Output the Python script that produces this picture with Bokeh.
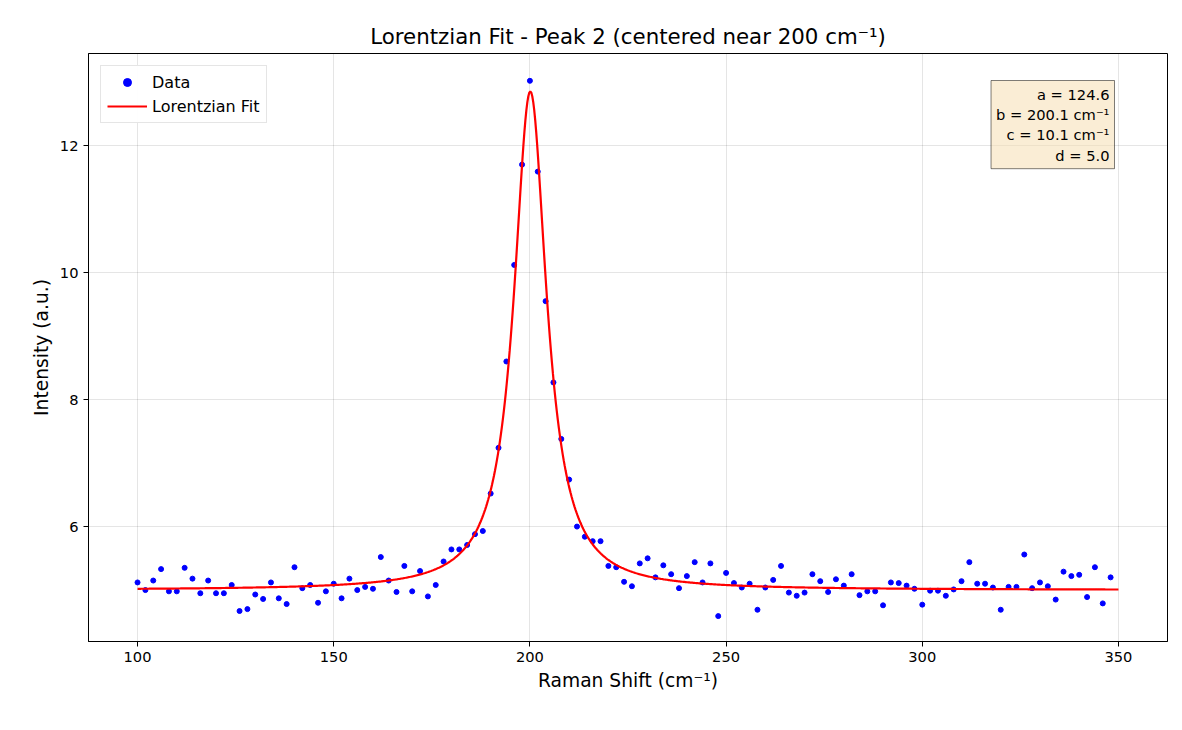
import numpy as np
from bokeh.plotting import figure
from bokeh.models import Label, Range1d, Legend, LegendItem
from bokeh.embed import file_html
from bokeh.resources import INLINE

x_data = list(range(100, 350, 2))
y_data = [5.12, 5.0, 5.15, 5.33, 4.98, 4.98, 5.35, 5.18, 4.95, 5.15, 4.95, 4.95, 5.08, 4.67, 4.70,
          4.93, 4.86, 5.12, 4.87, 4.78, 5.36, 5.03, 5.08, 4.80, 4.98, 5.10, 4.87, 5.18, 5.0, 5.05,
          5.02, 5.52, 5.15, 4.97, 5.38, 4.98, 5.30, 4.90, 5.08, 5.45, 5.64, 5.64, 5.71, 5.88, 5.93,
          6.52, 7.24, 8.60, 10.12, 11.70, 13.02, 11.59, 9.55, 8.27, 7.38, 6.74, 6.0, 5.84, 5.77, 5.77,
          5.38, 5.36, 5.13, 5.06, 5.42, 5.5, 5.2, 5.39, 5.25, 5.03, 5.22, 5.44, 5.12, 5.42, 4.59,
          5.27, 5.11, 5.04, 5.1, 4.69, 5.04, 5.16, 5.38, 4.96, 4.91, 4.96, 5.25, 5.14, 4.97, 5.17,
          5.07, 5.25, 4.92, 4.98, 4.98, 4.76, 5.12, 5.11, 5.07, 5.02, 4.77, 4.99, 4.99, 4.91, 5.01,
          5.14, 5.44, 5.1, 5.1, 5.04, 4.69, 5.05, 5.05, 5.56, 5.03, 5.12, 5.06, 4.85, 5.29, 5.22,
          5.24, 4.89, 5.36, 4.79, 5.2]

fit_a = 124.6
fit_b = 200.1
fit_c = 10.1
fit_d = 5.0

xf = np.linspace(100, 350, 1000)
hw = fit_c / 2
yf = fit_d + fit_a / np.pi * hw / ((xf - fit_b) ** 2 + hw ** 2)

p = figure(width=1174, height=714, output_backend="svg", toolbar_location=None,
           x_range=Range1d(87.5, 362.5), y_range=Range1d(4.19, 13.45),
           min_border_left=88, min_border_right=7, min_border_top=53, min_border_bottom=73)
p.title.text = "Lorentzian Fit - Peak 2 (centered near 200 cm⁻¹)"
p.title.align = "center"
p.title.text_font = "DejaVu Sans"
p.title.text_font_size = "16pt"
p.title.text_font_style = "normal"
p.title.text_color = "black"
p.outline_line_color = "black"
p.xaxis.axis_label = "Raman Shift (cm⁻¹)"
p.yaxis.axis_label = "Intensity (a.u.)"
for ax in (p.xaxis, p.yaxis):
    ax.axis_label_text_font = "DejaVu Sans"
    ax.axis_label_text_font_size = "14pt"
    ax.axis_label_text_font_style = "normal"
    ax.axis_label_text_color = "black"
    ax.major_label_text_font = "DejaVu Sans"
    ax.major_label_text_font_size = "11pt"
    ax.major_label_text_color = "black"
    ax.minor_tick_line_color = None
    ax.major_tick_in = 0
    ax.major_tick_out = 5
    ax.major_tick_line_color = "black"
    ax.axis_line_color = "black"
p.xaxis.ticker = [100, 150, 200, 250, 300, 350]
p.yaxis.ticker = [6, 8, 10, 12]
p.grid.grid_line_color = "black"
p.grid.grid_line_alpha = 0.1

r1 = p.scatter(x_data, y_data, size=5, color="blue")
r2 = p.line(xf, yf, line_color="red", line_width=2.2)

leg = Legend(items=[LegendItem(label="Data", renderers=[r1]),
                    LegendItem(label="Lorentzian Fit", renderers=[r2])],
             location="top_left", label_text_font="DejaVu Sans", label_text_font_size="12pt",
             label_text_color="black",
             border_line_color="#cccccc", border_line_width=1, glyph_width=40,
             margin=12, padding=6, spacing=4)
p.add_layout(leg)

txt = (f"a = {fit_a:.1f}\nb = {fit_b:.1f} cm⁻¹\nc = {fit_c:.1f} cm⁻¹\nd = {fit_d:.1f}")
lab = Label(x=1026, y=561, x_units="screen", y_units="screen", text=txt,
            text_align="right", text_baseline="top", text_font="DejaVu Sans",
            text_color="black",
            text_font_size="11pt", background_fill_color="#f5deb3", background_fill_alpha=0.55,
            border_line_color="black", border_line_alpha=0.5, padding=5)
p.add_layout(lab)

open("out.html", "w").write(file_html(p, INLINE))
